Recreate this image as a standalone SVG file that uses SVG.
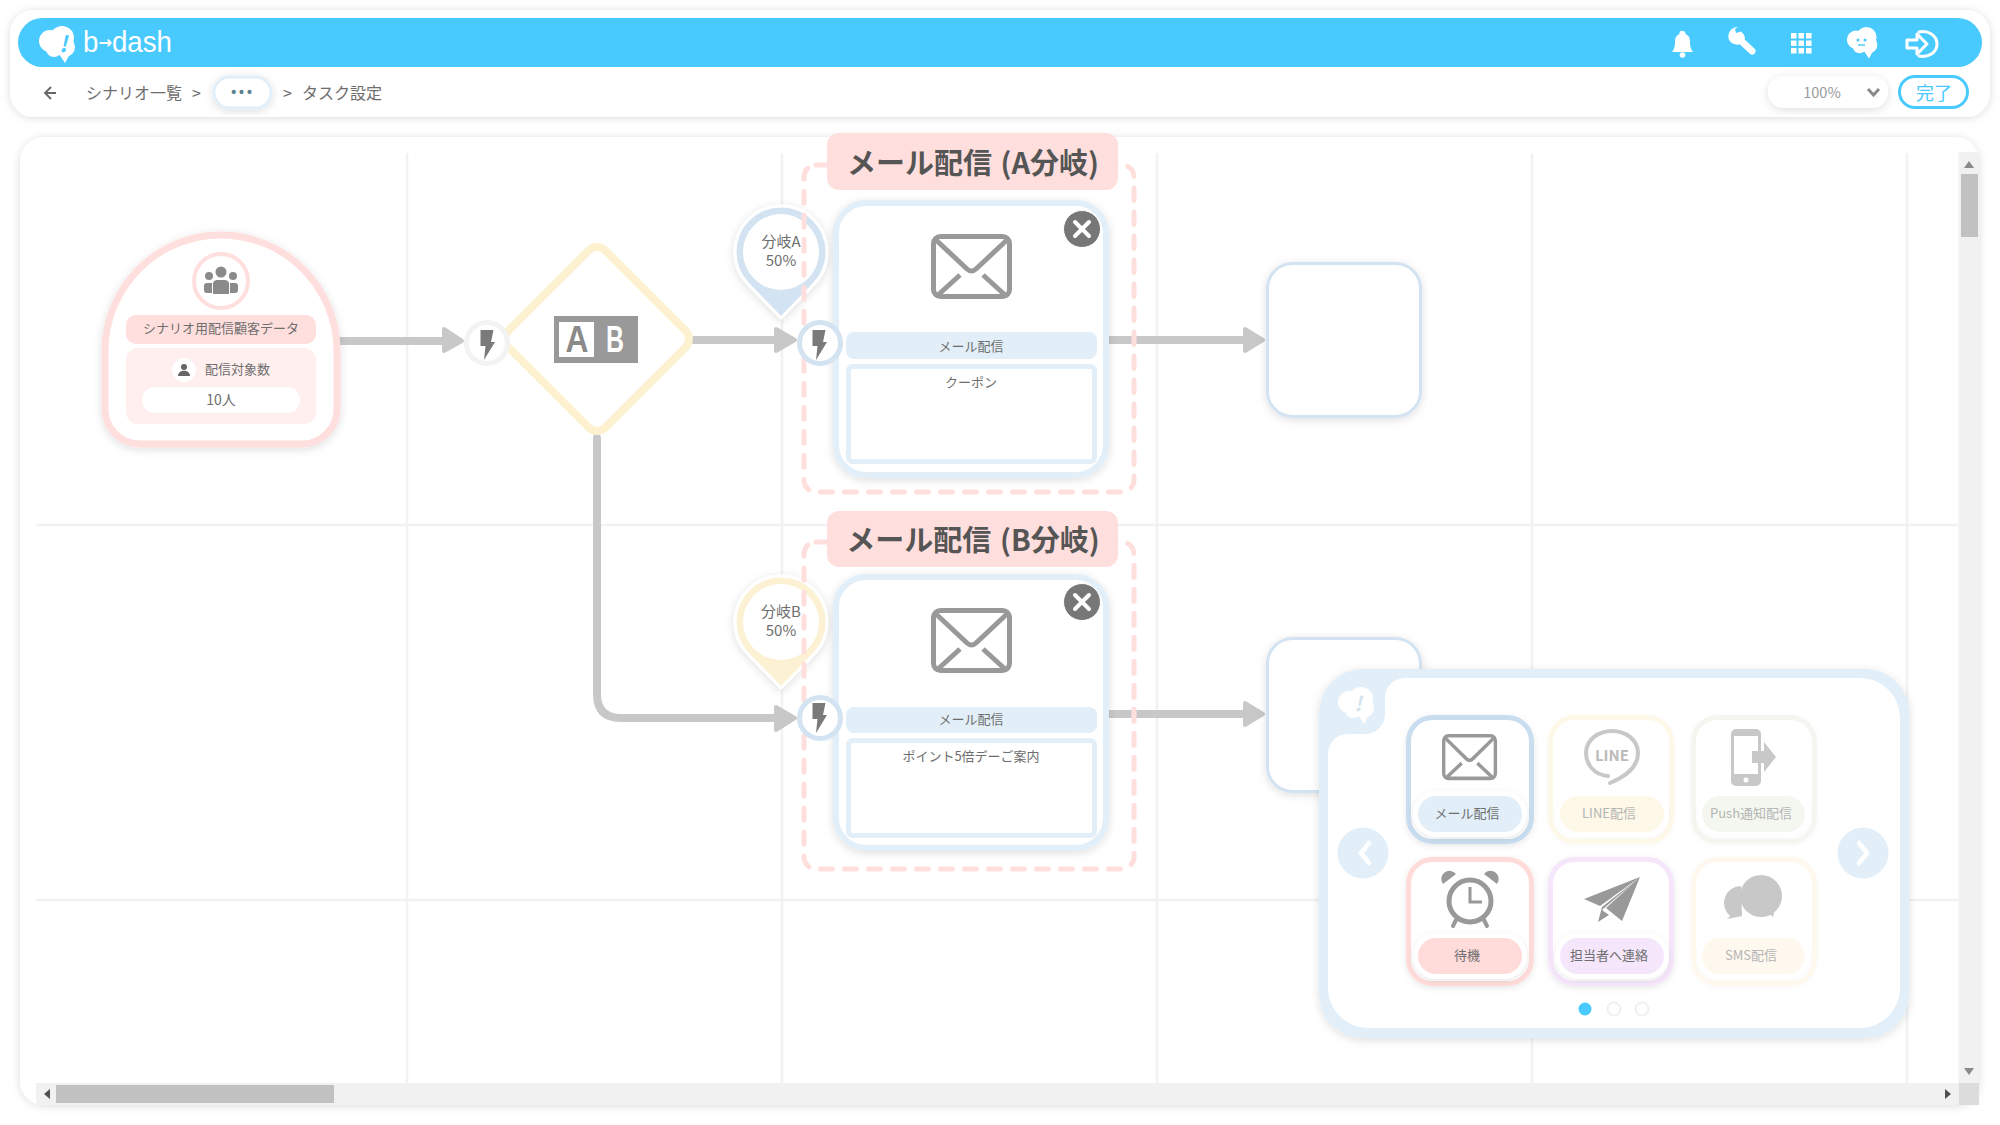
<svg xmlns="http://www.w3.org/2000/svg" xmlns:xlink="http://www.w3.org/1999/xlink" width="2000" height="1125" viewBox="0 0 2000 1125">
<style>
text{font-family:"Noto Sans CJK JP","Noto Sans",sans-serif;fill:#6e6e6e;dominant-baseline:central}
.m{text-anchor:middle}
.t13{font-size:13px}
.t16{font-size:16px}
.h{font-size:29px;font-weight:700;fill:#555;text-anchor:middle;word-spacing:2px}
.grid{stroke:#f2f2f2;stroke-width:2.5;fill:none}
.con{stroke:#c8c8c8;stroke-width:8;fill:none;stroke-linecap:round;stroke-linejoin:round}
.hd{fill:#c8c8c8;stroke:#c8c8c8;stroke-width:4;stroke-linejoin:round}
.dash{fill:none;stroke:#ffdfdd;stroke-width:5;stroke-dasharray:12 12;stroke-linecap:round}
.tab{fill:#ffdfdd}
.card{fill:#fff;stroke:#e2eef8;stroke-width:6;filter:url(#sh)}
.bar{fill:#e2eef8}
.box{fill:#fff;stroke:#e2eef8;stroke-width:5}
.tile{fill:#fff;stroke-width:5;filter:url(#sh3)}
.tf{fill:#fff;stroke-width:5;filter:url(#sh4)}
.pw{fill:#fff;filter:url(#sh3)}
.pf{fill:#fff;filter:url(#sh4)}
.fade{fill:#b5b5b5}
.env{fill:none;stroke:#999;stroke-width:5;stroke-linejoin:round}
.empty{fill:#fff;stroke:#d3e3f1;stroke-width:3;filter:url(#sh)}
</style>
<defs>
<filter id="sh" x="-20%" y="-20%" width="140%" height="140%"><feDropShadow dx="0" dy="2" stdDeviation="4" flood-color="#000" flood-opacity=".13"/></filter>
<filter id="sh2" x="-5%" y="-10%" width="110%" height="120%"><feDropShadow dx="0" dy="1" stdDeviation="4" flood-color="#000" flood-opacity=".14"/></filter>
<filter id="sh3" x="-20%" y="-20%" width="140%" height="140%"><feDropShadow dx="0" dy="2" stdDeviation="3" flood-color="#000" flood-opacity=".09"/></filter>
<filter id="sh4" x="-20%" y="-20%" width="140%" height="140%"><feDropShadow dx="0" dy="1" stdDeviation="2" flood-color="#000" flood-opacity=".03"/></filter>
<g id="envelope"><rect x="2.500" y="2.500" width="76" height="60" rx="7"/><path d="M4 5L36 35Q40.500 39 45 35L77 5M7 61L29 41M74 61L52 41"/></g>
<path id="bolt" d="M1.500 0H14.500L12 12H16L5 30L6.500 16H1.500Z" fill="#7a7a7a"/>
<g id="cloud"><circle cx="12" cy="15" r="11"/><circle cx="24" cy="12" r="12"/><circle cx="27" cy="21" r="10"/><circle cx="16" cy="23" r="8"/><path d="M21 28H32L27 37Z"/></g>
<path id="pinshape" d="M0 66L-33 32A46 46 0 1 1 33 32Z"/>
</defs>
<rect width="2000" height="1125" fill="#fff"/>

<g id="header">
<rect x="10" y="10" width="1980" height="107" rx="24" fill="#fff" filter="url(#sh2)"/>
<rect x="18" y="18" width="1964" height="49" rx="24.500" fill="#48caff"/>
<g id="logo"><use href="#cloud" x="38" y="26" fill="#fff"/><text x="63" y="42" class="m" style="font-size:22px;font-style:italic;font-weight:700;fill:#48caff">!</text><text x="83" y="42" textLength="89" lengthAdjust="spacingAndGlyphs" style="font-size:29px;font-weight:500;fill:#fff;font-family:'Liberation Sans',sans-serif">b<tspan style="font-size:17px;font-weight:700;fill:#fff;font-family:'DejaVu Sans',sans-serif">→</tspan>dash</text></g>
<g id="icon-bell" fill="#fff"><path d="M1683 31a2.500 2.500 0 0 1 2.500 3c4 1.500 4.500 5 4.500 8c0 5 1 7 3 10h-21c2-3 3-5 3-10c0-3 .5-6.500 4.500-8a2.500 2.500 0 0 1 3.500-3Z"/><circle cx="1682.500" cy="55" r="2.800"/></g>
<g id="icon-wrench"><path d="M1738 38L1752 51" stroke="#fff" stroke-width="7" stroke-linecap="round"/><path d="M1738 27a9.500 9.500 0 0 0-9 13a10 10 0 0 0 13 3.500l3-5a10 10 0 0 0-4-7l-5 1.500l-1-4Z" fill="#fff"/></g>
<g id="icon-grid" fill="#fff"><rect x="1791" y="33" width="5.500" height="5.500"/><rect x="1798.500" y="33" width="5.500" height="5.500"/><rect x="1806" y="33" width="5.500" height="5.500"/><rect x="1791" y="40.500" width="5.500" height="5.500"/><rect x="1798.500" y="40.500" width="5.500" height="5.500"/><rect x="1806" y="40.500" width="5.500" height="5.500"/><rect x="1791" y="48" width="5.500" height="5.500"/><rect x="1798.500" y="48" width="5.500" height="5.500"/><rect x="1806" y="48" width="5.500" height="5.500"/></g>
<g id="icon-user"><use href="#cloud" transform="translate(1846 27) scale(.85)" fill="#fff"/><circle cx="1858" cy="40" r="1.500" fill="#48caff"/><circle cx="1865" cy="40" r="1.500" fill="#48caff"/><path d="M1858 45h7" stroke="#48caff" stroke-width="1.500"/></g>
<g id="icon-logout" fill="none" stroke="#fff" stroke-width="3"><path d="M1907 40h10v-6l10 10l-10 10v-6h-10Z" stroke-linejoin="round" fill="#48caff"/><path d="M1919 32c10-2 18 4 18 12s-8 14-18 12" stroke-linecap="round"/></g>
<g id="breadcrumb">
<path d="M56 93H46M51 87l-6 6l6 6" fill="none" stroke="#666" stroke-width="1.800"/>
<text x="86" y="92" class="t16">シナリオ一覧</text><text x="192" y="92" class="t16">&gt;</text>
<rect x="214" y="77" width="57" height="31" rx="15.500" fill="#fff" stroke="#e2eef8" stroke-width="3" filter="url(#sh)"/>
<text x="243" y="92" class="m" style="font-size:14px;font-weight:700;fill:#5d7f92;letter-spacing:3px;font-family:'Liberation Sans',sans-serif">•••</text>
<text x="283" y="92" class="t16">&gt;</text><text x="302" y="92" class="t16">タスク設定</text>
</g>
<g id="zoom-select"><rect x="1768" y="76" width="120" height="32" rx="16" fill="#fff" filter="url(#sh)"/><text x="1822" y="91" class="m" style="font-size:14.500px;fill:#999">100%</text><path d="M1868 89l5.500 6l5.500-6" fill="none" stroke="#8a8a8a" stroke-width="3"/></g>
<g id="done-button"><rect x="1899.500" y="76.500" width="68" height="31" rx="15.500" fill="#fff" stroke="#48caff" stroke-width="3"/><text x="1934" y="92" class="m" style="font-size:18px;fill:#48caff">完了</text></g>
</g>

<rect id="canvas" x="20" y="137" width="1959" height="968" rx="24" fill="#fff" filter="url(#sh2)"/>
<g id="gridlines" class="grid">
<path d="M407 153V1083M782 153V1083M1157 153V1083M1532 153V1083M1907 153V1083M36 525H1958M36 900H1958"/>
</g>
<g id="scrollbars">
<path d="M1958.500 152H1979V1083H1958.500Z" fill="#f1f1f1"/>
<rect x="36" y="1083" width="1923" height="22" fill="#f1f1f1"/>
<rect x="1959" y="1083" width="20" height="22" fill="#dcdcdc"/>
<rect x="1961" y="174" width="17" height="63" fill="#c1c1c1"/>
<rect x="56" y="1085" width="278" height="18" fill="#c1c1c1"/>
<path d="M1964 168h10l-5-7ZM1964 1068h10l-5 7Z" fill="#8a8a8a"/><path d="M1945 1089v10l6-5ZM50 1089v10l-6-5Z" fill="#505050"/>
</g>

<g id="connectors">
<path class="con" d="M341 341H445"/><path class="hd" d="M444 329L462 341L444 351Z"/>
<path class="con" d="M694 340H776"/><path class="hd" d="M776 329L795 340L776 351Z"/>
<path class="con" d="M597 438V694Q597 718 621 718H776"/><path class="hd" d="M776 707L795 718L776 730Z"/>
<path class="con" d="M1105 340H1245"/><path class="hd" d="M1245 329L1263 340L1245 351Z"/>
<path class="con" d="M1105 714H1245"/><path class="hd" d="M1245 703L1263 714L1245 725Z"/>
</g>

<g id="start-node">
<path d="M105 409V351C105 287 157 235 221 235S337 287 337 351V409A35 35 0 0 1 302 444H140A35 35 0 0 1 105 409Z" fill="#fff" stroke="#ffdfdd" stroke-width="7" filter="url(#sh)"/>
<circle cx="221" cy="281" r="27" fill="#fff" stroke="#ffdfdd" stroke-width="4"/>
<g fill="#8a8a8a"><circle cx="221" cy="272" r="5.500"/><circle cx="209" cy="276" r="4"/><circle cx="233" cy="276" r="4"/><path d="M213 285a4 4 0 0 1 4-5h8a4 4 0 0 1 4 5v9h-16Z"/><path d="M204 287a3 3 0 0 1 3-4h5v10h-5a3 3 0 0 1-3-3ZM238 287a3 3 0 0 0-3-4h-5v10h5a3 3 0 0 0 3-3Z"/></g>
<rect x="126" y="315" width="190" height="29" rx="10" fill="#ffdfdd"/>
<text x="221" y="327" class="m t13">シナリオ用配信顧客データ</text>
<rect x="126" y="348" width="190" height="76" rx="12" fill="#ffefef"/>
<circle cx="184" cy="370" r="12" fill="#fff"/><circle cx="184" cy="367" r="3" fill="#666"/><path d="M178 376c0-7 12-7 12 0Z" fill="#666"/>
<text x="205" y="368" class="t13">配信対象数</text>
<rect x="142" y="387" width="158" height="26" rx="13" fill="#fff"/>
<text x="221" y="399" class="m" style="font-size:14px">10人</text>
</g>

<g id="ab-node">
<rect x="528.500" y="270.500" width="137" height="137" rx="12" transform="rotate(45 597 339)" fill="#fff" stroke="#fdf1cf" stroke-width="8"/>
<rect x="554" y="316" width="84" height="47" fill="#999"/><rect x="559" y="322" width="35" height="35" fill="#fff"/>
<text x="577" y="339" class="m" textLength="23" lengthAdjust="spacingAndGlyphs" style="font-size:36px;font-weight:700;fill:#8a8a8a;font-family:'Liberation Sans',sans-serif">A</text>
<text x="615" y="339" class="m" textLength="18" lengthAdjust="spacingAndGlyphs" style="font-size:36px;font-weight:700;fill:#fff;font-family:'Liberation Sans',sans-serif">B</text>
</g>
<g id="trigger-1"><circle cx="487" cy="343" r="20.500" fill="#fff" stroke="#f3f3f3" stroke-width="5"/><use href="#bolt" x="479" y="330"/></g>

<g id="pin-a">
<use href="#pinshape" transform="translate(781 252)" fill="#d3e3f1" stroke="#fff" stroke-width="3" stroke-linejoin="round" filter="url(#sh)"/>
<circle cx="781" cy="252" r="38" fill="#fff"/>
<text x="781" y="240" class="m" style="font-size:15px">分岐A</text><text x="781" y="259" class="m" style="font-size:15px">50%</text>
</g>
<g id="pin-b">
<use href="#pinshape" transform="translate(781 622)" fill="#fcf1d3" stroke="#fff" stroke-width="3" stroke-linejoin="round" filter="url(#sh)"/>
<circle cx="781" cy="622" r="38" fill="#fff"/>
<text x="781" y="610" class="m" style="font-size:15px">分岐B</text><text x="781" y="629" class="m" style="font-size:15px">50%</text>
</g>

<g id="mail-a">
<rect class="dash" x="804" y="165" width="330" height="327" rx="12"/>
<rect class="tab" x="827" y="133" width="291" height="57" rx="12"/>
<text class="h" x="973" y="161">メール配信 (A分岐)</text>
<rect class="card" x="836" y="203" width="270" height="272" rx="30"/>
<use href="#envelope" x="931" y="234" class="env"/>
<circle cx="1082" cy="229" r="18.500" fill="#777" stroke="#fff" stroke-width="1"/><path d="M1075 222l14 14M1089 222l-14 14" stroke="#fff" stroke-width="4" stroke-linecap="round"/>
<rect class="bar" x="846" y="332" width="251" height="27" rx="8"/>
<text x="971" y="345" class="m t13">メール配信</text>
<rect class="box" x="848.500" y="366.500" width="246" height="95" rx="4"/>
<text x="971" y="381" class="m t13">クーポン</text>
<circle cx="820" cy="343" r="20.500" fill="#fff" stroke="#d3e3f1" stroke-width="5"/><use href="#bolt" x="811" y="330"/>
</g>
<g id="mail-b">
<rect class="dash" x="804" y="542" width="330" height="327" rx="12"/>
<rect class="tab" x="827" y="511" width="291" height="56" rx="12"/>
<text class="h" x="973" y="538">メール配信 (B分岐)</text>
<rect class="card" x="836" y="577" width="270" height="271" rx="30"/>
<use href="#envelope" x="931" y="608" class="env"/>
<circle cx="1082" cy="602" r="18.500" fill="#777" stroke="#fff" stroke-width="1"/><path d="M1075 595l14 14M1089 595l-14 14" stroke="#fff" stroke-width="4" stroke-linecap="round"/>
<rect class="bar" x="846" y="707" width="251" height="26" rx="8"/>
<text x="971" y="718" class="m t13">メール配信</text>
<rect class="box" x="848.500" y="740.500" width="246" height="95" rx="4"/>
<text x="971" y="755" class="m t13">ポイント5倍デーご案内</text>
<circle cx="820" cy="718" r="20.500" fill="#fff" stroke="#d3e3f1" stroke-width="5"/><use href="#bolt" x="811" y="703"/>
</g>

<rect id="empty-1" class="empty" x="1267.500" y="263.500" width="153" height="153" rx="25"/>
<rect id="empty-2" class="empty" x="1267.500" y="638.500" width="153" height="153" rx="25"/>

<g id="palette">
<rect x="1319" y="669" width="590" height="369" rx="44" fill="#e2eef8" filter="url(#sh)"/>
<path d="M1405 678H1860A40 40 0 0 1 1900 718V988A40 40 0 0 1 1860 1028H1368A40 40 0 0 1 1328 988V754A20 20 0 0 1 1348 734H1365A20 20 0 0 0 1385 714V698A20 20 0 0 1 1405 678Z" fill="#fff"/>
<use href="#cloud" x="1337" y="687" fill="#fff"/><text x="1358" y="702" class="m" style="font-size:20px;font-style:italic;font-weight:700;fill:#d3e3f1">!</text>
<circle cx="1363" cy="853" r="25.500" fill="#e2eef8"/><path d="M1369 843l-8 10l8 10" fill="none" stroke="#fff" stroke-width="4.500" stroke-linecap="round" stroke-linejoin="round"/>
<circle cx="1863" cy="853" r="25.500" fill="#e2eef8"/><path d="M1859 843l8 10l-8 10" fill="none" stroke="#fff" stroke-width="4.500" stroke-linecap="round" stroke-linejoin="round"/>

<g id="tile-mail">
<rect class="tile" x="1408.500" y="717.500" width="123" height="124" rx="24" stroke="#c9ddf0"/>
<rect class="pw" x="1413" y="791" width="114" height="46" rx="23"/><rect x="1418" y="796" width="104" height="36" rx="18" fill="#e2eef8"/>
<use href="#envelope" transform="translate(1442 734) scale(.68 .71)" class="env"/>
<text x="1467" y="812" class="m t13">メール配信</text>
</g>
<g id="tile-line">
<rect class="tf" x="1550.500" y="717.500" width="121" height="124" rx="24" stroke="#fdf8e8"/>
<rect class="pf" x="1555" y="791" width="114" height="46" rx="23"/><rect x="1560" y="796" width="104" height="36" rx="18" fill="#fdf8e8"/>
<path d="M1608 776C1594 775 1586 764 1586 753C1586 740 1598 731 1612 731C1626 731 1638 740 1638 753C1638 766 1627 776 1610 783" fill="none" stroke="#c8c8c8" stroke-width="4" stroke-linecap="round"/>
<text x="1612" y="754" class="m" style="font-size:15px;font-weight:700;fill:#bbb">LINE</text>
<text x="1609" y="812" class="m t13 fade">LINE配信</text>
</g>
<g id="tile-push">
<rect class="tf" x="1693.500" y="717.500" width="121" height="124" rx="24" stroke="#f4f7ef"/>
<rect class="pf" x="1697" y="791" width="113" height="46" rx="23"/><rect x="1702" y="796" width="103" height="36" rx="18" fill="#f4f7ef"/>
<rect x="1731" y="729" width="30" height="57" rx="5" fill="#c8c8c8"/><rect x="1734" y="736" width="24" height="38" fill="#fff"/><circle cx="1746" cy="780" r="2.500" fill="#fff"/>
<path d="M1752 751h12v-9l12 15l-12 15v-9h-12Z" fill="#c8c8c8"/>
<text x="1751" y="812" class="m t13 fade">Push通知配信</text>
</g>
<g id="tile-wait">
<rect class="tile" x="1408.500" y="859.500" width="123" height="124" rx="24" stroke="#ffdcda"/>
<rect class="pw" x="1413" y="933" width="114" height="46" rx="23"/><rect x="1418" y="938" width="104" height="36" rx="18" fill="#ffdcda"/>
<path d="M1443 884a8 8 0 0 1 13-10ZM1497 884a8 8 0 0 0-13-10Z" fill="#999"/>
<circle cx="1470" cy="901" r="21" fill="#fff" stroke="#999" stroke-width="5"/><path d="M1470 887v15h12" fill="none" stroke="#999" stroke-width="3"/>
<path d="M1456 920l-3 6M1484 920l3 6" stroke="#999" stroke-width="4" stroke-linecap="round"/>
<text x="1467" y="954" class="m t13">待機</text>
</g>
<g id="tile-contact">
<rect class="tile" x="1550.500" y="859.500" width="121" height="124" rx="24" stroke="#f5e6fb"/>
<rect class="pw" x="1555" y="933" width="114" height="46" rx="23"/><rect x="1560" y="938" width="104" height="36" rx="18" fill="#f5e6fb"/>
<path d="M1640 877L1584 899L1600 906ZM1640 877L1606 908L1622 921ZM1640 877L1602 907L1598 922L1609 915L1602 910Z" fill="#999"/>
<text x="1609" y="954" class="m t13">担当者へ連絡</text>
</g>
<g id="tile-sms">
<rect class="tf" x="1693.500" y="859.500" width="121" height="124" rx="24" stroke="#fef8ef"/>
<rect class="pf" x="1697" y="933" width="113" height="46" rx="23"/><rect x="1702" y="938" width="103" height="36" rx="18" fill="#fef8ef"/>
<path d="M1741 886a17 17 0 0 0-11 30l-3 3l15-3Z" fill="#c8c8c8"/>
<circle cx="1761" cy="896" r="21" fill="#c8c8c8"/><path d="M1765 910l8 7l3-12Z" fill="#c8c8c8"/>
<text x="1751" y="954" class="m t13 fade">SMS配信</text>
</g>
<g id="pager"><circle cx="1585" cy="1009" r="6.500" fill="#48caff"/><circle cx="1614" cy="1009" r="6.500" fill="#fff" stroke="#f0f0f0" stroke-width="2"/><circle cx="1642" cy="1009" r="6.500" fill="#fff" stroke="#f0f0f0" stroke-width="2"/></g>
</g>
</svg>
